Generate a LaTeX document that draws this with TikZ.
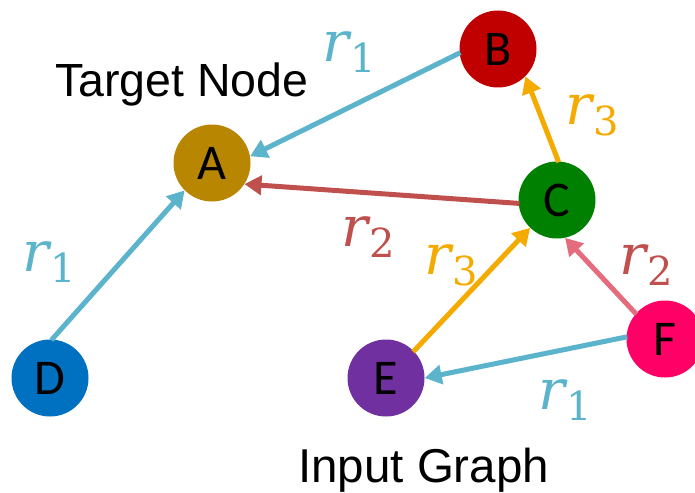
\documentclass[tikz,border=0pt]{standalone}
\usepackage{fontspec}
\setmainfont{Liberation Sans}
\newfontfamily\letterfont{Carlito}
\newfontfamily\relfont{DejaVu Serif}
\usetikzlibrary{arrows.meta}

\definecolor{nodeA}{RGB}{184,134,0}
\definecolor{nodeB}{RGB}{192,0,0}
\definecolor{nodeC}{RGB}{0,128,0}
\definecolor{nodeD}{RGB}{0,112,192}
\definecolor{nodeE}{RGB}{112,48,160}
\definecolor{nodeF}{RGB}{255,0,102}
\definecolor{relone}{RGB}{91,180,204}
\definecolor{reltwo}{RGB}{192,80,77}
\definecolor{relthree}{RGB}{245,170,0}
\definecolor{reltwolight}{RGB}{228,108,125}

% relation symbol r with an upright index
\newcommand{\relsym}[1]{{\relfont\fontsize{56}{56}\selectfont\itshape r}\kern1pt\raisebox{-11pt}{\relfont\fontsize{40}{40}\selectfont #1}}

\tikzset{
  vertex/.style={circle, fill=#1, draw=none, inner sep=0pt, minimum size=77pt,
    font=\letterfont\fontsize{50}{50}\selectfont, text=black},
  rel/.style={line width=5pt, draw=#1, -{Triangle[length=17pt,width=19pt]}, shorten <=-1pt},
  rlabel/.style={text=#1, inner sep=0pt},
  caption/.style={anchor=base west, inner sep=0pt}
}

\begin{document}
\begin{tikzpicture}[x=1pt, y=-1pt]
  \useasboundingbox (0,0) rectangle (695,492);

  % vertices
  \node[vertex=nodeA] (A) at (212,163) {A};
  \node[vertex=nodeB] (B) at (498,49) {B};
  \node[vertex=nodeC] (C) at (557,200) {C};
  \node[vertex=nodeD] (D) at (50,378) {D};
  \node[vertex=nodeE] (E) at (386,378) {E};
  \node[vertex=nodeF] (F) at (665,339) {F};

  % captions
  \node[caption, font=\fontsize{46.5}{46.5}\selectfont] (tn) at (55,97) {Target Node};
  \node[caption, font=\fontsize{47.5}{47.5}\selectfont] (ig) at (298,482) {Input Graph};

  % relations
  \draw[rel=relone] (B.186) -- (A.10);
  \draw[rel=reltwo] (C.185) -- (A.-33);
  \draw[rel=relthree] (C.88) -- (B.-45);
  \draw[rel=relone] (D.87) -- (A.-135);
  \draw[rel=relthree] (E.44) -- (C.-134);
  \draw[rel=reltwolight] (F.139) -- (C.-78);
  \draw[rel=relone] (F.177) -- (E.0);

  % relation labels
  \node[rlabel=relone] (l1) at (349,52) {\relsym{1}};
  \node[rlabel=reltwo] (l2) at (368,237) {\relsym{2}};
  \node[rlabel=relthree] (l3) at (592,115) {\relsym{3}};
  \node[rlabel=relone] (l4) at (49,262) {\relsym{1}};
  \node[rlabel=relthree] (l5) at (451,265) {\relsym{3}};
  \node[rlabel=reltwo] (l6) at (646,265) {\relsym{2}};
  \node[rlabel=relone] (l7) at (565,400) {\relsym{1}};
\end{tikzpicture}
\end{document}
